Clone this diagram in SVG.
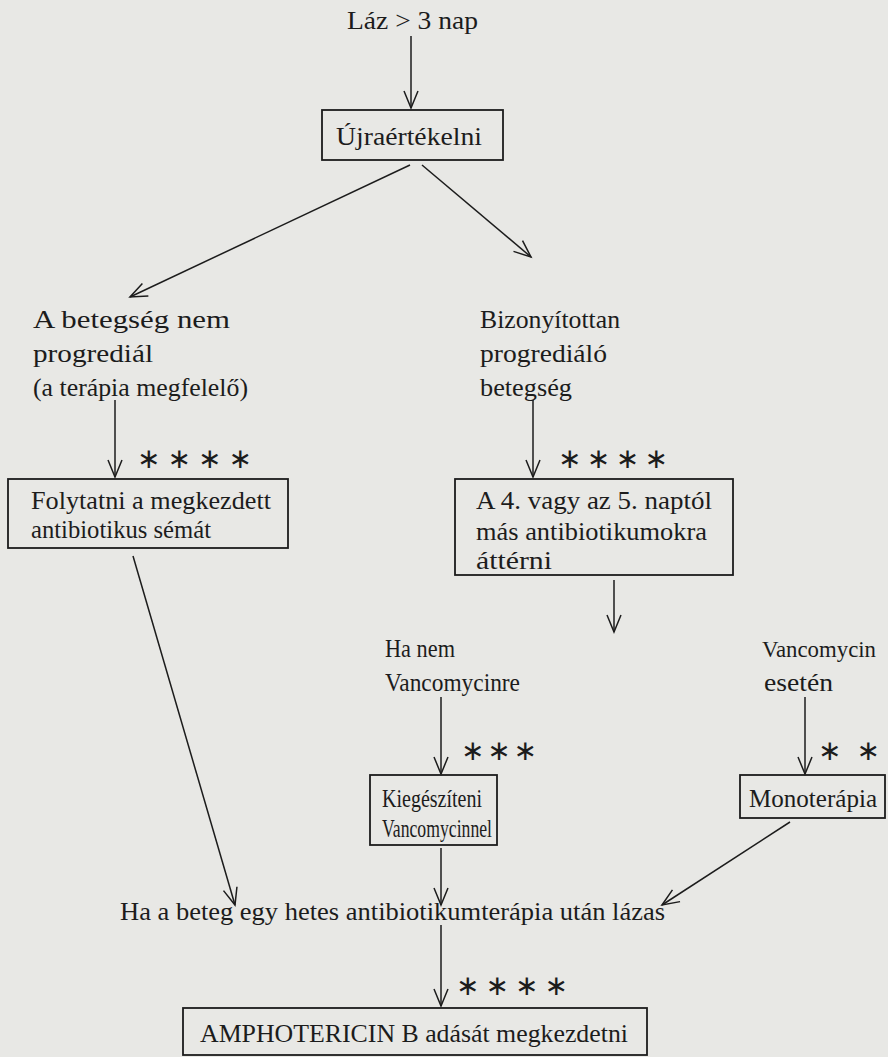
<svg xmlns="http://www.w3.org/2000/svg" width="888" height="1057" viewBox="0 0 888 1057">
<style>
.t{font-family:"Liberation Serif","DejaVu Serif",serif;font-size:25px;fill:#1c1c1c}
.c{font-family:"Liberation Serif","DejaVu Serif",serif;font-size:26px;fill:#1c1c1c}
.s{font-family:"DejaVu Sans",sans-serif;font-size:28px;fill:#1c1c1c}
.box{fill:none;stroke:#1c1c1c;stroke-width:1.8}
.ln{fill:none;stroke:#1c1c1c;stroke-width:1.5;marker-end:url(#ah)}
</style>
<defs>
<marker id="ah" markerUnits="userSpaceOnUse" markerWidth="20" markerHeight="20" viewBox="-18 -9 20 18" refX="0" refY="0" orient="auto" overflow="visible">
<path d="M-17,-7 L0,0 L-17,7" fill="none" stroke="#1c1c1c" stroke-width="1.5"/>
</marker>
</defs>
<rect width="888" height="1057" fill="#e8e8e5"/>
<g id="connectors">
<line class="ln" x1="411" y1="36" x2="411" y2="108"/>
<line class="ln" x1="410" y1="165" x2="130" y2="297"/>
<line class="ln" x1="422" y1="165" x2="531" y2="257"/>
<line class="ln" x1="115" y1="400" x2="115" y2="477"/>
<line class="ln" x1="533" y1="400" x2="533" y2="477"/>
<line class="ln" x1="614" y1="580" x2="614" y2="632"/>
<line class="ln" x1="441" y1="697" x2="441" y2="774"/>
<line class="ln" x1="805" y1="697" x2="805" y2="774"/>
<line class="ln" x1="133" y1="556" x2="235" y2="905"/>
<line class="ln" x1="441" y1="848" x2="441" y2="905"/>
<line class="ln" x1="790" y1="822" x2="662" y2="905"/>
<line class="ln" x1="441" y1="925" x2="441" y2="1006"/>
</g>
<g id="n-laz"><text class="t" x="347" y="29" textLength="131" lengthAdjust="spacingAndGlyphs">Láz &gt; 3 nap</text></g>
<g id="n-ujra"><rect class="box" x="322" y="110" width="181" height="50"/><text class="t" x="336" y="145" textLength="146" lengthAdjust="spacingAndGlyphs">Újraértékelni</text></g>
<g id="n-nemprog">
<text class="t" x="33" y="328" textLength="197" lengthAdjust="spacingAndGlyphs">A betegség nem</text>
<text class="t" x="33" y="362" textLength="120" lengthAdjust="spacingAndGlyphs">progrediál</text>
<text class="t" x="33" y="396" textLength="215" lengthAdjust="spacingAndGlyphs">(a terápia megfelelő)</text>
</g>
<g id="n-prog">
<text class="t" x="480" y="328" textLength="140" lengthAdjust="spacingAndGlyphs">Bizonyítottan</text>
<text class="t" x="480" y="362" textLength="127" lengthAdjust="spacingAndGlyphs">progrediáló</text>
<text class="t" x="480" y="396" textLength="92" lengthAdjust="spacingAndGlyphs">betegség</text>
</g>
<g id="stars1"><text class="s" x="137" y="468" textLength="115" lengthAdjust="spacing">∗∗∗∗</text></g>
<g id="stars2"><text class="s" x="558" y="468" textLength="110" lengthAdjust="spacing">∗∗∗∗</text></g>
<g id="n-folyt"><rect class="box" x="8" y="479" width="280" height="69"/>
<text class="t" x="31" y="509" textLength="240" lengthAdjust="spacingAndGlyphs">Folytatni a megkezdett</text>
<text class="t" x="31" y="538" textLength="180" lengthAdjust="spacingAndGlyphs">antibiotikus sémát</text>
</g>
<g id="n-atter"><rect class="box" x="455" y="479" width="278" height="96"/>
<text class="t" x="476" y="509" textLength="236" lengthAdjust="spacingAndGlyphs">A 4. vagy az 5. naptól</text>
<text class="t" x="476" y="540" textLength="231" lengthAdjust="spacingAndGlyphs">más antibiotikumokra</text>
<text class="t" x="476" y="569" textLength="76" lengthAdjust="spacingAndGlyphs">áttérni</text>
</g>
<g id="n-hanem">
<text class="c" x="385" y="657" textLength="70" lengthAdjust="spacingAndGlyphs">Ha nem</text>
<text class="c" x="385" y="691" textLength="135" lengthAdjust="spacingAndGlyphs">Vancomycinre</text>
</g>
<g id="n-vanc">
<text class="c" x="762" y="657" style="font-size:24px" textLength="114" lengthAdjust="spacingAndGlyphs">Vancomycin</text>
<text class="c" x="764" y="691" textLength="69" lengthAdjust="spacingAndGlyphs">esetén</text>
</g>
<g id="stars3"><text class="s" x="461" y="760" textLength="76" lengthAdjust="spacing">∗∗∗</text></g>
<g id="stars4"><text class="s" x="818" y="760" textLength="62" lengthAdjust="spacing">∗∗</text></g>
<g id="n-kieg"><rect class="box" x="370" y="775" width="127" height="70"/>
<text class="c" x="382" y="807" textLength="100" lengthAdjust="spacingAndGlyphs">Kiegészíteni</text>
<text class="c" x="382" y="837" textLength="110" lengthAdjust="spacingAndGlyphs">Vancomycinnel</text>
</g>
<g id="n-mono"><rect class="box" x="740" y="775" width="145" height="43"/>
<text class="c" x="749" y="807" textLength="128" lengthAdjust="spacingAndGlyphs">Monoterápia</text>
</g>
<g id="n-haabeteg"><text class="c" x="120" y="920" textLength="545" lengthAdjust="spacingAndGlyphs">Ha a beteg egy hetes antibiotikumterápia után lázas</text></g>
<g id="stars5"><text class="s" x="456" y="995" textLength="112" lengthAdjust="spacing">∗∗∗∗</text></g>
<g id="n-ampho"><rect class="box" x="183" y="1008" width="464" height="47"/>
<text class="c" x="200" y="1042" textLength="428" lengthAdjust="spacingAndGlyphs">AMPHOTERICIN B adását megkezdetni</text>
</g>
</svg>
